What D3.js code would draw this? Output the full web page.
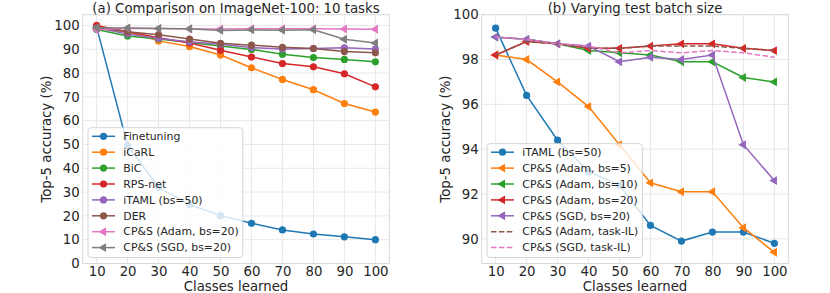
<!DOCTYPE html>
<html>
<head>
<meta charset="utf-8">
<script src="https://cdn.jsdelivr.net/npm/d3@7"></script>
<style>
  body { margin: 0; background: #fff; }
  svg { display: block; font-family: "DejaVu Sans", sans-serif; }
</style>
</head>
<body>
<div id="chart"></div>
<script>
// x values shared by both panels
const classes = [10, 20, 30, 40, 50, 60, 70, 80, 90, 100];

// (a) Comparison on ImageNet-100
const finetuning = [99.3, 49.6, 32.0, 24.8, 20.1, 16.9, 14.1, 12.4, 11.2, 10.0];
const icarl = [99.3, 97.2, 93.5, 91.1, 87.6, 82.2, 77.3, 73.0, 67.2, 63.6];
const bic = [98.3, 95.6, 94.3, 92.8, 91.4, 89.9, 87.9, 86.5, 85.7, 84.7];
const rpsNet = [100.0, 97.3, 94.8, 92.6, 89.6, 86.7, 84.0, 82.6, 79.7, 74.2];
const itamlA = [99.0, 96.4, 94.5, 93.1, 92.1, 90.7, 90.1, 90.3, 90.6, 90.1];
const der = [98.9, 97.3, 96.1, 94.3, 92.5, 91.7, 90.8, 90.3, 89.0, 88.5];
const cpsAdamA = [98.2, 98.8, 98.7, 98.5, 98.5, 98.6, 98.6, 98.6, 98.5, 98.4];
const cpsSgdA = [99.0, 98.9, 98.7, 98.6, 97.9, 98.1, 98.0, 98.2, 94.2, 92.6];
const yTicksA = [0, 10, 20, 30, 40, 50, 60, 70, 80, 90, 100];

// (b) Varying test batch size
const itamlB = [99.4, 96.4, 94.4, 93.0, 92.4, 90.6, 89.9, 90.3, 90.3, 89.8];
const adamBs5 = [98.2, 98.0, 97.0, 95.9, 94.2, 92.5, 92.1, 92.1, 90.5, 89.4];
const adamBs10 = [99.0, 98.9, 98.7, 98.4, 98.3, 98.2, 97.9, 97.9, 97.2, 97.0];
const adamBs20 = [98.2, 98.8, 98.7, 98.5, 98.5, 98.6, 98.7, 98.7, 98.5, 98.4];
const sgdBs20 = [99.0, 98.9, 98.7, 98.6, 97.9, 98.1, 98.0, 98.2, 94.2, 92.6];
const adamTaskIL = [98.2, 98.8, 98.7, 98.5, 98.5, 98.6, 98.6, 98.6, 98.5, 98.4];
const sgdTaskIL = [99.0, 98.9, 98.7, 98.6, 98.3, 98.4, 98.3, 98.4, 98.3, 98.1];
const yTicksB = [90, 92, 94, 96, 98, 100];

const panelA = {
  title: '(a) Comparison on ImageNet-100: 10 tasks',
  left: 82.7, right: 389.3, yDomain: [0, 104.5], yTicks: yTicksA,
  series: [
    { name: 'Finetuning', values: finetuning, color: '#1f77b4', marker: 'circle' },
    { name: 'iCaRL', values: icarl, color: '#ff7f0e', marker: 'circle' },
    { name: 'BiC', values: bic, color: '#2ca02c', marker: 'circle' },
    { name: 'RPS-net', values: rpsNet, color: '#d62728', marker: 'circle' },
    { name: 'iTAML (bs=50)', values: itamlA, color: '#9467bd', marker: 'circle' },
    { name: 'DER', values: der, color: '#8c564b', marker: 'circle' },
    { name: 'CP&S (Adam, bs=20)', values: cpsAdamA, color: '#e377c2', marker: 'tri' },
    { name: 'CP&S (SGD, bs=20)', values: cpsSgdA, color: '#7f7f7f', marker: 'tri' }
  ]
};

const panelB = {
  title: '(b) Varying test batch size',
  left: 481.7, right: 788.3, yDomain: [88.9, 100], yTicks: yTicksB,
  series: [
    { name: 'iTAML (bs=50)', values: itamlB, color: '#1f77b4', marker: 'circle' },
    { name: 'CP&S (Adam, bs=5)', values: adamBs5, color: '#ff7f0e', marker: 'tri' },
    { name: 'CP&S (Adam, bs=10)', values: adamBs10, color: '#2ca02c', marker: 'tri' },
    { name: 'CP&S (Adam, bs=20)', values: adamBs20, color: '#d62728', marker: 'tri' },
    { name: 'CP&S (SGD, bs=20)', values: sgdBs20, color: '#9467bd', marker: 'tri' },
    { name: 'CP&S (Adam, task-IL)', values: adamTaskIL, color: '#8c564b', marker: null, dashed: true },
    { name: 'CP&S (SGD, task-IL)', values: sgdTaskIL, color: '#e377c2', marker: null, dashed: true }
  ]
};

const width = 830, height = 293;
const plotTop = 14.7, plotBottom = 263.5;
const textColor = '#262626';
const gridColor = '#e8e8e8';
const spineColor = '#d9d9d9';
const labelSize = '13.3px';

const svg = d3.select('#chart').append('svg')
  .attr('width', width)
  .attr('height', height);

function drawMarker(g, type, color, x, y) {
  if (type === 'circle') {
    g.append('circle')
      .attr('cx', x).attr('cy', y).attr('r', 3.6)
      .attr('fill', color);
  } else if (type === 'tri') {
    g.append('path')
      .attr('d', d3.symbol(d3.symbolTriangle, 34)())
      .attr('transform', `translate(${x},${y}) rotate(-90)`)
      .attr('fill', color);
  }
}

function renderPanel(p) {
  const x = d3.scaleLinear().domain([5.5, 104.5]).range([p.left, p.right]);
  const y = d3.scaleLinear().domain(p.yDomain).range([plotBottom, plotTop]);
  const g = svg.append('g');

  // grid
  g.append('g').selectAll('line').data(classes).enter().append('line')
    .attr('x1', d => x(d)).attr('x2', d => x(d))
    .attr('y1', plotTop).attr('y2', plotBottom)
    .attr('stroke', gridColor).attr('stroke-width', 1);
  g.append('g').selectAll('line').data(p.yTicks).enter().append('line')
    .attr('x1', p.left).attr('x2', p.right)
    .attr('y1', d => y(d)).attr('y2', d => y(d))
    .attr('stroke', gridColor).attr('stroke-width', 1);

  // axes (labels only, seaborn-style no ticks)
  const xAxis = g.append('g')
    .attr('transform', `translate(0,${plotBottom})`)
    .call(d3.axisBottom(x).tickValues(classes).tickSize(0).tickPadding(3));
  const yAxis = g.append('g')
    .attr('transform', `translate(${p.left},0)`)
    .call(d3.axisLeft(y).tickValues(p.yTicks).tickSize(0).tickPadding(3));
  [xAxis, yAxis].forEach(a => {
    a.select('.domain').remove();
    a.selectAll('text')
      .style('font-size', labelSize)
      .style('font-family', '"DejaVu Sans", sans-serif')
      .attr('fill', textColor);
  });

  // spines
  g.append('rect')
    .attr('x', p.left).attr('y', plotTop)
    .attr('width', p.right - p.left).attr('height', plotBottom - plotTop)
    .attr('fill', 'none').attr('stroke', spineColor).attr('stroke-width', 1);

  // series
  const line = d3.line().x(d => x(d[0])).y(d => y(d[1]));
  p.series.forEach(s => {
    const pts = classes.map((c, i) => [c, s.values[i]]);
    const sg = g.append('g');
    sg.append('path')
      .attr('d', line(pts))
      .attr('fill', 'none')
      .attr('stroke', s.color)
      .attr('stroke-width', 1.5)
      .attr('stroke-dasharray', s.dashed ? '5.5,2.4' : null);
    if (s.marker) pts.forEach(d => drawMarker(sg, s.marker, s.color, x(d[0]), y(d[1])));
  });

  // title and labels
  const cx = (p.left + p.right) / 2;
  g.append('text')
    .attr('x', cx).attr('y', 12.5)
    .attr('text-anchor', 'middle')
    .style('font-size', labelSize)
    .attr('fill', textColor)
    .text(p.title);
  g.append('text')
    .attr('x', cx).attr('y', 291)
    .attr('text-anchor', 'middle')
    .style('font-size', labelSize)
    .attr('fill', textColor)
    .text('Classes learned');
  g.append('text')
    .attr('transform', `translate(${p.left - 32},${(plotTop + plotBottom) / 2}) rotate(-90)`)
    .attr('text-anchor', 'middle')
    .style('font-size', labelSize)
    .attr('fill', textColor)
    .text('Top-5 accuracy (%)');

  // legend, lower left
  const rowH = 15.9;
  const legH = p.series.length * rowH + 2.6;
  const lx = p.left + 5.3;
  const ly = plotBottom - 6 - legH;
  const leg = g.append('g').attr('transform', `translate(${lx},${ly})`);
  const frame = leg.append('rect')
    .attr('rx', 3).attr('ry', 3)
    .attr('height', legH)
    .attr('fill', 'rgba(255,255,255,0.8)')
    .attr('stroke', '#cccccc').attr('stroke-width', 0.8);
  let maxW = 0;
  p.series.forEach((s, i) => {
    const ry = 8.6 + i * rowH;
    leg.append('line')
      .attr('x1', 4).attr('x2', 27)
      .attr('y1', ry).attr('y2', ry)
      .attr('stroke', s.color).attr('stroke-width', 1.5)
      .attr('stroke-dasharray', s.dashed ? '5.5,2.4' : null);
    if (s.marker) drawMarker(leg, s.marker, s.color, 15.5, ry);
    const t = leg.append('text')
      .attr('x', 35.3).attr('y', ry + 3.8)
      .style('font-size', '10.9px')
      .attr('fill', textColor)
      .text(s.name);
    maxW = Math.max(maxW, t.node().getComputedTextLength());
  });
  frame.attr('width', 35.3 + maxW + 4);
}

renderPanel(panelA);
renderPanel(panelB);
</script>
</body>
</html>
